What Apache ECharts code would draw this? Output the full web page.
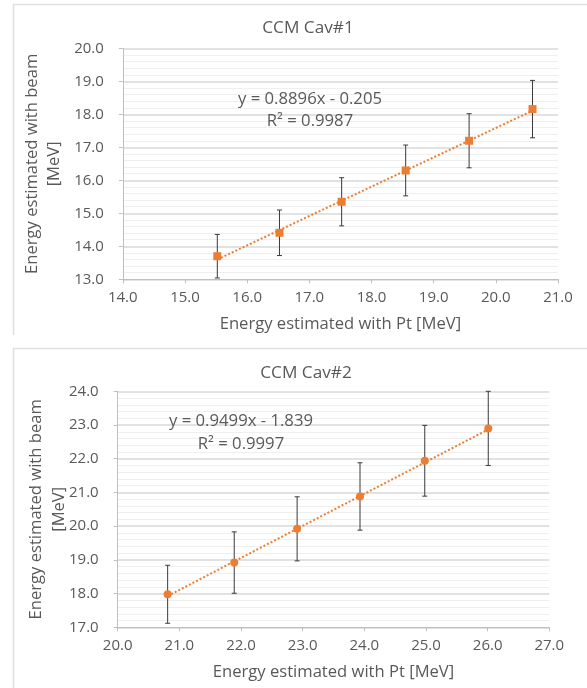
<!DOCTYPE html>
<html>
<head>
<meta charset="utf-8">
<script src="https://cdn.jsdelivr.net/npm/echarts@6/dist/echarts.min.js"></script>
<style>
html,body{margin:0;padding:0;background:#fff;}
#chart{width:587px;height:688px;}
</style>
</head>
<body>
<div id="chart"></div>
<script>
// ---- data ----
const chartTitles = ['CCM Cav#1', 'CCM Cav#2'];
const xAxisTitle = 'Energy estimated with Pt [MeV]';
const yAxisTitle = 'Energy estimated with beam\n[MeV]';

const cav1X = [15.52, 16.52, 17.52, 18.55, 19.57, 20.59];
const cav1Y = [13.70, 14.41, 15.35, 16.30, 17.20, 18.16];
const cav1Err = [0.66, 0.69, 0.73, 0.77, 0.82, 0.87];
const cav1Fit = [0.8896, -0.205];
const cav1Eq = ['y = 0.8896x - 0.205', 'R\u00B2 = 0.9987'];

const cav2X = [20.81, 21.89, 22.91, 23.93, 24.98, 26.01];
const cav2Y = [17.98, 18.92, 19.92, 20.88, 21.94, 22.90];
const cav2Err = [0.86, 0.91, 0.95, 1.00, 1.05, 1.10];
const cav2Fit = [0.9499, -1.839];
const cav2Eq = ['y = 0.9499x - 1.839', 'R\u00B2 = 0.9997'];

const xRange1 = [14, 21], yRange1 = [13, 20];
const xRange2 = [20, 27], yRange2 = [17, 24];

// ---- styles ----
const FONT = '"Open Sans"';
const TXT = '#595959';
const ORANGE = '#ED7D31';
const AXIS = '#bfbfbf';
const TICK_FS = 15, NAME_FS = 16.6, TITLE_FS = 17.2, EQ_FS = 16.7;

const chart = echarts.init(document.getElementById('chart'), null, {renderer: 'canvas'});

function xAxisCfg(idx, range) {
  return {
    type: 'value', gridIndex: idx, min: range[0], max: range[1], interval: 1,
    axisLine: {show: true, onZero: false, lineStyle: {color: AXIS, width: 1}},
    axisTick: {show: true, length: 4, lineStyle: {color: AXIS}},
    splitLine: {show: false},
    axisLabel: {formatter: v => v.toFixed(1), color: TXT, fontSize: TICK_FS, fontFamily: FONT, margin: 11},
    name: xAxisTitle, nameLocation: 'middle', nameGap: 36,
    nameTextStyle: {color: TXT, fontSize: NAME_FS, fontFamily: FONT}
  };
}
function yAxisCfg(idx, range, gap) {
  return {
    type: 'value', gridIndex: idx, min: range[0], max: range[1], interval: 1,
    axisLine: {show: true, onZero: false, lineStyle: {color: AXIS, width: 1}},
    axisTick: {show: true, length: 4, lineStyle: {color: AXIS}},
    splitLine: {show: true, lineStyle: {color: '#d9d9d9', width: 1.5}},
    minorTick: {show: false, splitNumber: 5},
    minorSplitLine: {show: true, lineStyle: {color: '#efefef', width: 1}},
    axisLabel: {formatter: v => v.toFixed(1), color: TXT, fontSize: TICK_FS, fontFamily: FONT, margin: 19},
    name: yAxisTitle, nameLocation: 'middle', nameGap: gap, nameRotate: 90, nameMoveOverlap: false,
    nameTextStyle: {color: TXT, fontSize: NAME_FS, fontFamily: FONT, lineHeight: 22.4, align: 'center'}
  };
}

function errSeries(idx, xs, ys, es) {
  return {
    type: 'custom', xAxisIndex: idx, yAxisIndex: idx, z: 2,
    data: xs.map((x, i) => [x, ys[i], es[i]]),
    encode: {x: 0, y: 1},
    renderItem: function (params, api) {
      const x = api.value(0), y = api.value(1), e = api.value(2);
      const t = api.coord([x, y + e]);
      const b = api.coord([x, y - e]);
      const hw = 2.5;
      const st = {stroke: '#3a3a3a', lineWidth: 1};
      return {type: 'group', children: [
        {type: 'line', shape: {x1: t[0], y1: t[1], x2: b[0], y2: b[1]}, style: st},
        {type: 'line', shape: {x1: t[0] - hw, y1: t[1], x2: t[0] + hw, y2: t[1]}, style: st},
        {type: 'line', shape: {x1: b[0] - hw, y1: b[1], x2: b[0] + hw, y2: b[1]}, style: st}
      ]};
    }
  };
}
function trendSeries(idx, xs, fit) {
  const x0 = xs[0], x1 = xs[xs.length - 1];
  return {
    type: 'line', xAxisIndex: idx, yAxisIndex: idx, z: 3,
    data: [[x0, fit[0] * x0 + fit[1]], [x1, fit[0] * x1 + fit[1]]],
    symbol: 'none', silent: true,
    lineStyle: {color: ORANGE, width: 2, type: [2, 2]}
  };
}
function pointSeries(idx, xs, ys, sym) {
  return {
    type: 'scatter', xAxisIndex: idx, yAxisIndex: idx, z: 4,
    data: xs.map((x, i) => [x, ys[i]]),
    symbol: sym, symbolSize: 8,
    itemStyle: {color: ORANGE, opacity: 1}
  };
}
function eqText(x, y, s) {
  return {type: 'text', x: x, y: y, z: 10,
    style: {text: s, fill: TXT, font: EQ_FS + 'px ' + FONT, textAlign: 'center', textVerticalAlign: 'middle'}};
}

const option = {
  animation: false,
  backgroundColor: '#fff',
  title: [
    {text: chartTitles[0], left: 303, top: 15, textAlign: 'center',
     textStyle: {color: TXT, fontSize: TITLE_FS, fontWeight: 'normal', fontFamily: FONT}},
    {text: chartTitles[1], left: 301, top: 359.5, textAlign: 'center',
     textStyle: {color: TXT, fontSize: TITLE_FS, fontWeight: 'normal', fontFamily: FONT}}
  ],
  grid: [
    {left: 122.8, top: 48.4, width: 435.2, height: 230.9},
    {left: 117.7, top: 391.3, width: 431.6, height: 236}
  ],
  xAxis: [xAxisCfg(0, xRange1), xAxisCfg(1, xRange2)],
  yAxis: [yAxisCfg(0, yRange1, 57), yAxisCfg(1, yRange2, 47.5)],
  series: [
    errSeries(0, cav1X, cav1Y, cav1Err),
    trendSeries(0, cav1X, cav1Fit),
    pointSeries(0, cav1X, cav1Y, 'rect'),
    errSeries(1, cav2X, cav2Y, cav2Err),
    trendSeries(1, cav2X, cav2Fit),
    pointSeries(1, cav2X, cav2Y, 'circle')
  ],
  graphic: [
    {type: 'polyline', silent: true, shape: {points: [[13.5, 335], [13.5, 4.5], [590, 4.5]]},
     style: {stroke: '#e0e0e0', lineWidth: 1.5, fill: null}},
    {type: 'polyline', silent: true, shape: {points: [[13.5, 700], [13.5, 348.5], [590, 348.5]]},
     style: {stroke: '#e0e0e0', lineWidth: 1.5, fill: null}},
    eqText(310, 99, cav1Eq[0]),
    eqText(310, 121, cav1Eq[1]),
    eqText(241, 421.7, cav2Eq[0]),
    eqText(241, 444, cav2Eq[1])
  ]
};
chart.setOption(option);
</script>
</body>
</html>
